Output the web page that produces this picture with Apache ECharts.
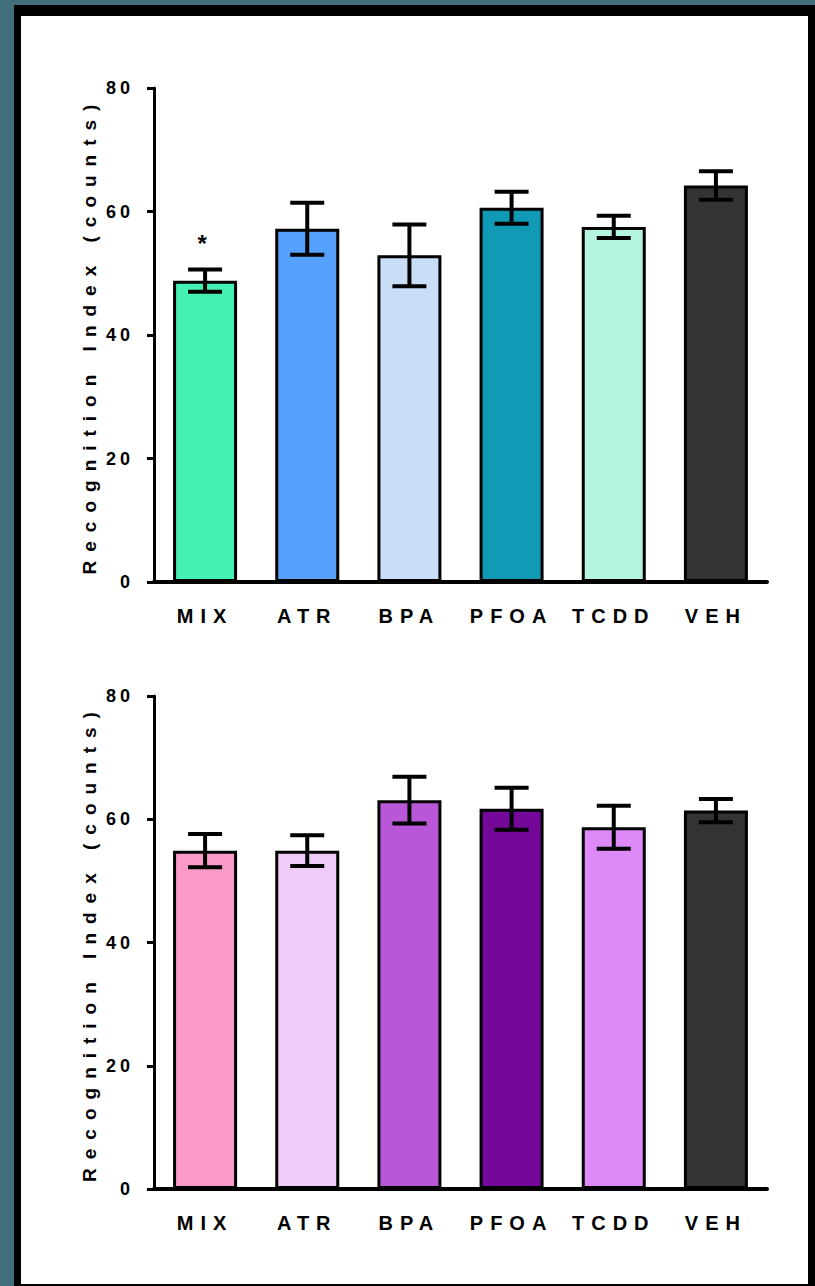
<!DOCTYPE html>
<html><head><meta charset="utf-8">
<script src="https://cdn.jsdelivr.net/npm/echarts@6/dist/echarts.min.js"></script>
<style>
html,body{margin:0;padding:0;width:815px;height:1286px;overflow:hidden;background:#416e7b;}
#frame{position:absolute;left:14px;top:5px;width:787px;height:1268px;background:#fff;border-style:solid;border-color:#000;border-width:11px 7px 2px 7px;}
#chart{position:absolute;left:0;top:0;width:815px;height:1286px;}
#chart text[style*="19px"], #chart text[font-size="19"], #chart text[font-size="19px"]{letter-spacing:9px;}
#chart text[style*="18px"], #chart text[font-size="18"], #chart text[font-size="18px"]{letter-spacing:4px;}
#chart text[style*="20px"], #chart text[font-size="20"], #chart text[font-size="20px"]{letter-spacing:7px;}
</style></head>
<body><div id="frame"></div><div id="chart"></div>
<script>
const categories = ['MIX','ATR','BPA','PFOA','TCDD','VEH'];
const yTicks = [0, 20, 40, 60, 80];
const yTitle = 'Recognition Index (counts)';

const meansA = [48.8, 57.2, 52.9, 60.6, 57.5, 64.2];
const semA   = [1.8, 4.2, 5.0, 2.6, 1.8, 2.3];
const colorsA = ['#44f0b2', '#55a1fd', '#c9ddf7', '#109ab5', '#b4f6dd', '#333333'];
const marksA = ['*', '', '', '', '', ''];

const meansB = [54.9, 54.9, 63.1, 61.7, 58.7, 61.4];
const semB   = [2.7, 2.5, 3.8, 3.4, 3.5, 1.9];
const colorsB = ['#f99ac8', '#efcbf7', '#b857d8', '#730899', '#dd89f7', '#333333'];
const marksB = ['', '', '', '', '', ''];

const NARROW = 'Liberation Sans Narrow, Arial Narrow, Liberation Sans, Arial, sans-serif';
const SANS = 'Liberation Sans, Arial, sans-serif';

const chart = echarts.init(document.getElementById('chart'), null, {renderer: 'svg'});

function errRender(marks) {
  return function (params, api) {
    const i = api.value(0);
    const hi = api.coord([i, api.value(1)]);
    const lo = api.coord([i, api.value(2)]);
    const half = 17;
    const st = {stroke: '#000', lineWidth: 4};
    const children = [
      {type: 'line', shape: {x1: hi[0], y1: hi[1], x2: lo[0], y2: lo[1]}, style: st},
      {type: 'line', shape: {x1: hi[0] - half, y1: hi[1], x2: hi[0] + half, y2: hi[1]}, style: st},
      {type: 'line', shape: {x1: lo[0] - half, y1: lo[1], x2: lo[0] + half, y2: lo[1]}, style: st}
    ];
    if (marks[i]) {
      children.push({type: 'text', style: {text: marks[i], x: hi[0] - 3, y: hi[1] - 26, align: 'center', verticalAlign: 'middle', font: 'bold 24px ' + SANS, fill: '#000'}});
    }
    return {type: 'group', children: children};
  };
}

function makeAxes(gi) {
  const x = {
    type: 'category', gridIndex: gi, data: categories,
    axisLine: {show: true, lineStyle: {color: '#000', width: 4}},
    axisTick: {show: false},
    axisLabel: {color: '#000', fontFamily: NARROW, fontWeight: 'bold', fontSize: 20, margin: 24}
  };
  const y = {
    type: 'value', gridIndex: gi, min: yTicks[0], max: yTicks[yTicks.length - 1], interval: yTicks[1] - yTicks[0],
    name: yTitle, nameLocation: 'middle', nameGap: 55, nameRotate: 90,
    nameTextStyle: {color: '#000', fontFamily: SANS, fontWeight: 'bold', fontSize: 19},
    axisLine: {show: true, lineStyle: {color: '#000', width: 3}},
    axisTick: {show: true, length: 7, lineStyle: {color: '#000', width: 3}},
    splitLine: {show: false},
    axisLabel: {color: '#000', fontFamily: NARROW, fontWeight: 'bold', fontSize: 18, margin: 20}
  };
  return [x, y];
}

const ax0 = makeAxes(0), ax1 = makeAxes(1);

function barSeries(gi, means, colors) {
  return {
    type: 'bar', xAxisIndex: gi, yAxisIndex: gi, barWidth: 64,
    itemStyle: {borderColor: '#000', borderWidth: 3},
    data: means.map((v, i) => ({value: v, itemStyle: {color: colors[i]}})),
    z: 2
  };
}
function errSeries(gi, means, sems, marks) {
  return {
    type: 'custom', xAxisIndex: gi, yAxisIndex: gi,
    renderItem: errRender(marks),
    data: means.map((v, i) => [i, v + sems[i], v - sems[i]]),
    z: 3
  };
}

chart.setOption({
  animation: false,
  backgroundColor: 'transparent',
  grid: [
    {left: 154, right: 48, top: 88, bottom: 704},
    {left: 154, right: 48, top: 696, bottom: 97}
  ],
  xAxis: [ax0[0], ax1[0]],
  yAxis: [ax0[1], ax1[1]],
  series: [
    barSeries(0, meansA, colorsA),
    errSeries(0, meansA, semA, marksA),
    barSeries(1, meansB, colorsB),
    errSeries(1, meansB, semB, marksB)
  ]
});
</script></body></html>
